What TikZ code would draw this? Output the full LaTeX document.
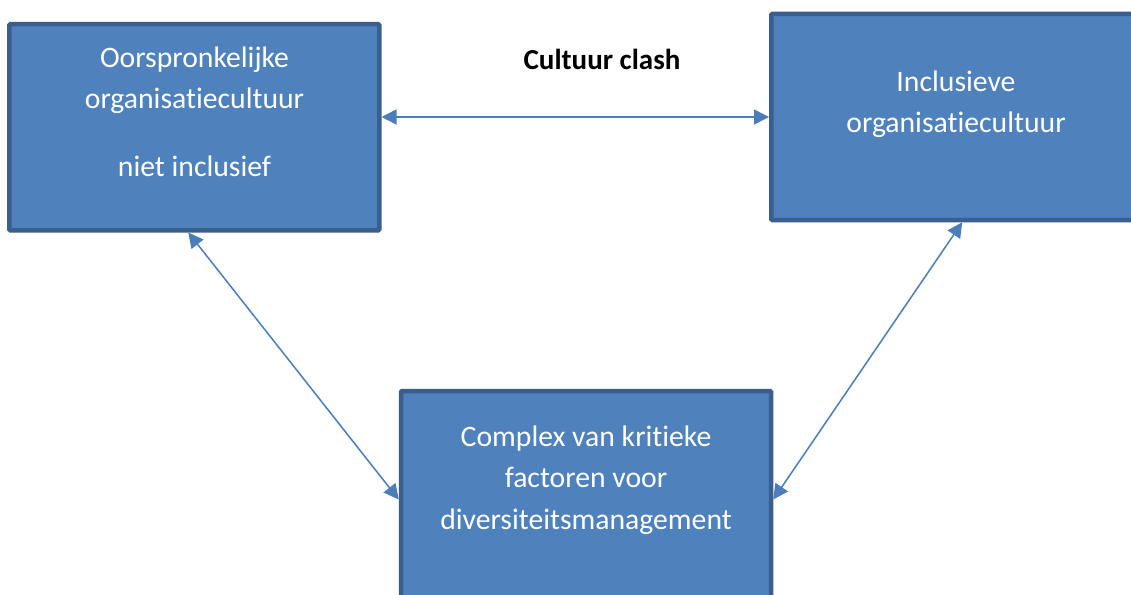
\documentclass[tikz,border=0pt]{standalone}
\usepackage{fontspec}
\setmainfont{Carlito}[RawFeature={-liga;-calt;-clig;-dlig}]
\usetikzlibrary{arrows.meta}
\definecolor{boxfill}{HTML}{4F81BD}
\definecolor{boxline}{HTML}{3A5F8E}
\definecolor{arrowc}{HTML}{4A7EBB}
\tikzset{
  box/.style={draw=boxline, fill=boxfill, line width=4.5pt, inner sep=0pt,
    minimum width=370pt, minimum height=206pt, rounded corners=1pt},
  boxtext/.style={text=white, font=\fontsize{29.7}{35}\selectfont, anchor=base, inner sep=0pt},
  arr/.style={draw=arrowc, line width=1.5pt,
    {Triangle[length=15pt,width=15pt]}-{Triangle[length=15pt,width=15pt]}}
}
\begin{document}
\begin{tikzpicture}[x=1pt,y=-1pt]
\useasboundingbox (0,0) rectangle (1131,594);
\fill[white] (0,0) rectangle (1131,594);
\node[box] (L) at (194.25,127.25) {};
\node[box] (R) at (956.25,117) {};
\node[box, minimum height=217pt] (B) at (586,499.5) {};
\node[boxtext] (l1) at (194.5,67) {Oorspronkelijke};
\node[boxtext] (l2) at (194.5,108) {organisatiecultuur};
\node[boxtext] (l3) at (194.5,176) {niet inclusief};
\node[boxtext] (r1) at (956,91) {Inclusieve};
\node[boxtext] (r2) at (956,132) {organisatiecultuur};
\node[boxtext] (b1) at (586,446.5) {Complex van kritieke};
\node[boxtext] (b2) at (586,487) {factoren voor};
\node[boxtext] (b3) at (586,529) {diversiteitsmanagement};
\node[anchor=base, inner sep=0pt, font=\fontsize{29}{34}\selectfont\bfseries] (clash) at (602,69.3) {Cultuur clash};
\draw[arr] (L.east |- R.west) -- (R.west);
\draw[arr] ([xshift=-6pt]L.south) -- (B.west);
\draw[arr] ([xshift=6pt]R.south) -- (B.east);
\end{tikzpicture}
\end{document}
